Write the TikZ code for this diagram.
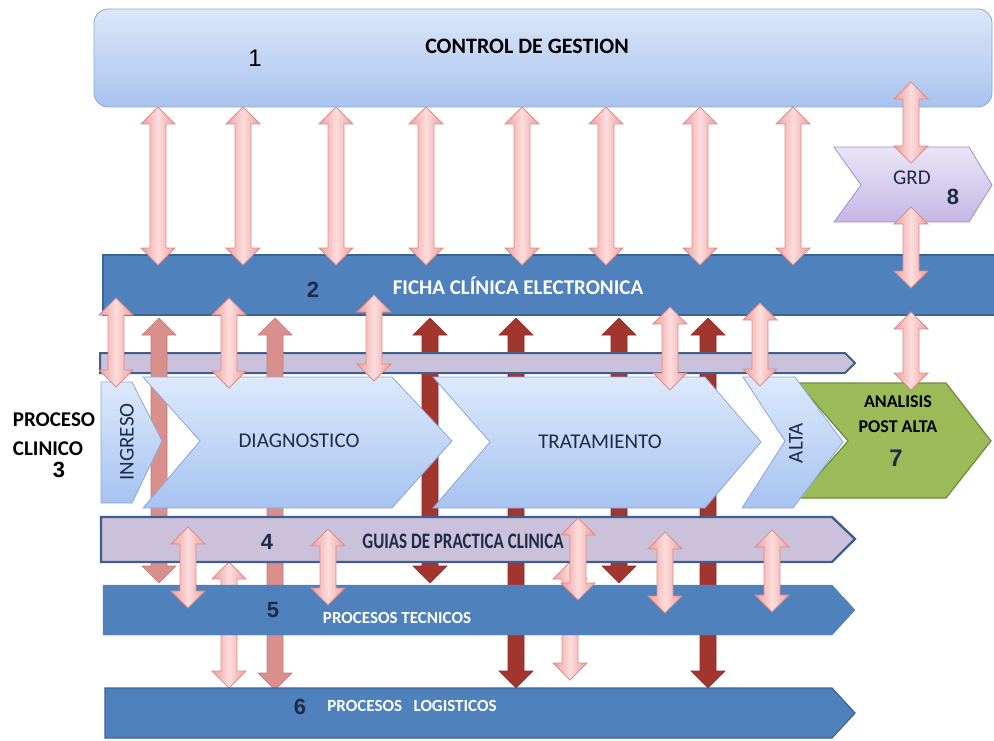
\documentclass[tikz,border=0pt]{standalone}
\usepackage{fontspec}
\setmainfont{Carlito}
\newfontfamily\numfont{Liberation Sans}
\usetikzlibrary{calc}

\definecolor{ctrltop}{HTML}{DCE7FA}
\definecolor{ctrlbot}{HTML}{A9C3EE}
\definecolor{proctop}{HTML}{DDE9FC}
\definecolor{procbot}{HTML}{A6C3F0}
\definecolor{procline}{HTML}{8BA7D6}
\definecolor{barblue}{HTML}{4F81BD}
\definecolor{barline}{HTML}{3A6396}
\definecolor{lavfill}{HTML}{CCC1DA}
\definecolor{lavline}{HTML}{3D5F8D}
\definecolor{grdtop}{HTML}{EAE5F7}
\definecolor{grdbot}{HTML}{C4B7E6}
\definecolor{grdline}{HTML}{9D90C9}
\definecolor{postgreen}{HTML}{9BBB59}
\definecolor{postline}{HTML}{71893F}
\definecolor{pinkedge}{HTML}{F09E9C}
\definecolor{pinkmid}{HTML}{FCDDDD}
\definecolor{pinkline}{HTML}{DC8C89}
\definecolor{rosefill}{HTML}{D98F8B}
\definecolor{roseline}{HTML}{C47C78}
\definecolor{darkred}{HTML}{A3352F}
\definecolor{darkline}{HTML}{8C2A25}
\definecolor{navytext}{HTML}{1D2B47}

\newcommand\fatarrow[3]{%
  \path[#1] let \p1=(#2), \p2=(#3) in
    (\x1,\y1) -- (\x1+17pt,\y1-17pt) -- (\x1+8pt,\y1-17pt) -- (\x1+8pt,\y2+17pt)
    -- (\x1+17pt,\y2+17pt) -- (\x1,\y2) -- (\x1-17pt,\y2+17pt) -- (\x1-8pt,\y2+17pt)
    -- (\x1-8pt,\y1-17pt) -- (\x1-17pt,\y1-17pt) -- cycle;}

\tikzset{
  pinkarrow/.style={draw=pinkline,line width=0.8pt,left color=pinkedge,right color=pinkedge,middle color=pinkmid},
  rosearrow/.style={draw=roseline,line width=0.6pt,fill=rosefill},
  redarrow/.style={draw=darkline,line width=0.6pt,fill=darkred},
  procshape/.style={draw=procline,line width=0.8pt,top color=proctop,bottom color=procbot},
  bluebar/.style={draw=barline,line width=1.2pt,fill=barblue},
  lavbar/.style={draw=lavline,line width=2.4pt,fill=lavfill},
  num/.style={font=\numfont\bfseries\fontsize{22}{22}\selectfont,text=navytext},
  proctext/.style={font=\fontsize{21}{21}\selectfont,text=navytext},
  bartext/.style={font=\bfseries\fontsize{17}{17}\selectfont,text=white},
  headtext/.style={font=\bfseries\fontsize{21}{21}\selectfont,text=black}
}

\begin{document}
\begin{tikzpicture}[x=1pt,y=-1pt]
\useasboundingbox (0,0) rectangle (994,741);

\draw[draw=procline,line width=0.8pt,top color=ctrltop,bottom color=ctrlbot,rounded corners=14pt]
  (94,9) rectangle (992,107);
\node (one) at (255,58) [font=\numfont\fontsize{24}{24}\selectfont] {1};
\node (ctrl) at (527,46) [font=\bfseries\fontsize{22}{22}\selectfont] {CONTROL DE GESTION};

\draw[draw=grdline,line width=0.8pt,top color=grdtop,bottom color=grdbot]
  (834,147) -- (969,147) -- (992,185) -- (969,222) -- (834,222) -- (861,185) -- cycle;
\node (grd) at (912,178) [font=\fontsize{21}{21}\selectfont,text=navytext] {GRD};
\node (eight) at (953,197) [num] {8};

\draw[bluebar] (103,255) rectangle (996,315);
\node (two) at (313,290) [num] {2};
\node (ficha) at (518,286) [font=\bfseries\fontsize{21}{21}\selectfont,text=white] {FICHA CLÍNICA ELECTRONICA};

\foreach \x/\y [count=\i] in {430/583,516/688,619/583,708/688}{
  \coordinate (rt\i) at (\x,318);
  \coordinate (rb\i) at (\x,\y);
  \fatarrow{redarrow}{rt\i}{rb\i}
}

\draw[lavbar,line width=2pt] (100,353) -- (845,353) -- (855,363) -- (845,373) -- (100,373) -- cycle;

\foreach \x/\y [count=\i] in {159/583,275/690}{
  \coordinate (st\i) at (\x,318);
  \coordinate (sb\i) at (\x,\y);
  \fatarrow{rosearrow}{st\i}{sb\i}
}

\foreach \x/\a/\b [count=\i] in {229/562/688,570/562/680}{
  \coordinate (lt\i) at (\x,\a);
  \coordinate (lb\i) at (\x,\b);
  \fatarrow{pinkarrow}{lt\i}{lb\i}
}

\draw[draw=postline,line width=1.2pt,fill=postgreen]
  (798,383) -- (946,383) -- (991,441) -- (946,498) -- (798,498) -- (848,441) -- cycle;
\node (post) at (898,402) [font=\bfseries\fontsize{18}{18}\selectfont] {ANALISIS};
\node (postb) at (898,427) [font=\bfseries\fontsize{18}{18}\selectfont] {POST ALTA};
\node (seven) at (896,458) [num,font=\numfont\bfseries\fontsize{24}{24}\selectfont] {7};

\draw[procshape] (101,382) -- (132,382) -- (162,441) -- (132,503) -- (101,503) -- cycle;
\draw[procshape] (143,377) -- (392,377) -- (452,441) -- (392,508) -- (143,508) -- (200,441) -- cycle;
\draw[procshape] (433,377) -- (705,377) -- (761,442) -- (705,508) -- (433,508) -- (490,442) -- cycle;
\draw[procshape] (743,377) -- (795,377) -- (843,442) -- (793,508) -- (742,508) -- (785,441) -- cycle;
\node (ingreso) at (127,442) [proctext,rotate=90] {INGRESO};
\node (diag) at (299,441) [proctext] {DIAGNOSTICO};
\node (trat) at (600,442) [proctext] {TRATAMIENTO};
\node (alta) at (796,443) [proctext,rotate=90] {ALTA};

\node (proc) at (54,420) [headtext] {PROCESO};
\node (clin) at (48,449) [headtext] {CLINICO};
\node (three) at (59,470) [num,text=black] {3};

\draw[lavbar] (101,517) -- (832,517) -- (855,539) -- (832,562) -- (101,562) -- cycle;
\node (four) at (267,542) [num] {4};
\node (guias) at (463,541) [font=\bfseries\fontsize{17}{17}\selectfont,text=navytext] {\scalebox{1}[1.3]{GUIAS DE PRACTICA CLINICA}};

\draw[fill=barblue,draw=barblue] (103,585) -- (832,585) -- (855,610) -- (832,635) -- (103,635) -- cycle;
\node (five) at (273,610) [num] {5};
\node (tecn) at (397,618) [bartext] {PROCESOS TECNICOS};

\draw[bluebar] (105,688) -- (832,688) -- (855,713) -- (832,738) -- (105,738) -- cycle;
\node (six) at (300,707) [num] {6};
\node (logi) at (412,706) [bartext] {PROCESOS\ \ \ LOGISTICOS};

\foreach \x [count=\i] in {158,243,336,426,522,606,700,793}{
  \coordinate (ct\i) at (\x,107);
  \coordinate (fb\i) at (\x,265);
  \fatarrow{pinkarrow}{ct\i}{fb\i}
}

\coordinate (g1) at (911,82);
\coordinate (g2) at (911,163);
\coordinate (g3) at (911,207);
\coordinate (g4) at (911,288);
\coordinate (g5) at (911,312);
\coordinate (g6) at (911,390);
\fatarrow{pinkarrow}{g1}{g2}
\fatarrow{pinkarrow}{g3}{g4}
\fatarrow{pinkarrow}{g5}{g6}

\foreach \x/\a/\b [count=\i] in {116/298/387,229/298/388,374/295/381,670/307/390,760/303/386}{
  \coordinate (pt\i) at (\x,\a);
  \coordinate (pb\i) at (\x,\b);
  \fatarrow{pinkarrow}{pt\i}{pb\i}
}

\foreach \x/\a/\b [count=\i] in {188/527/608,328/529/605,578/518/600,665/532/613,772/530/612}{
  \coordinate (gt\i) at (\x,\a);
  \coordinate (gb\i) at (\x,\b);
  \fatarrow{pinkarrow}{gt\i}{gb\i}
}
\end{tikzpicture}
\end{document}
